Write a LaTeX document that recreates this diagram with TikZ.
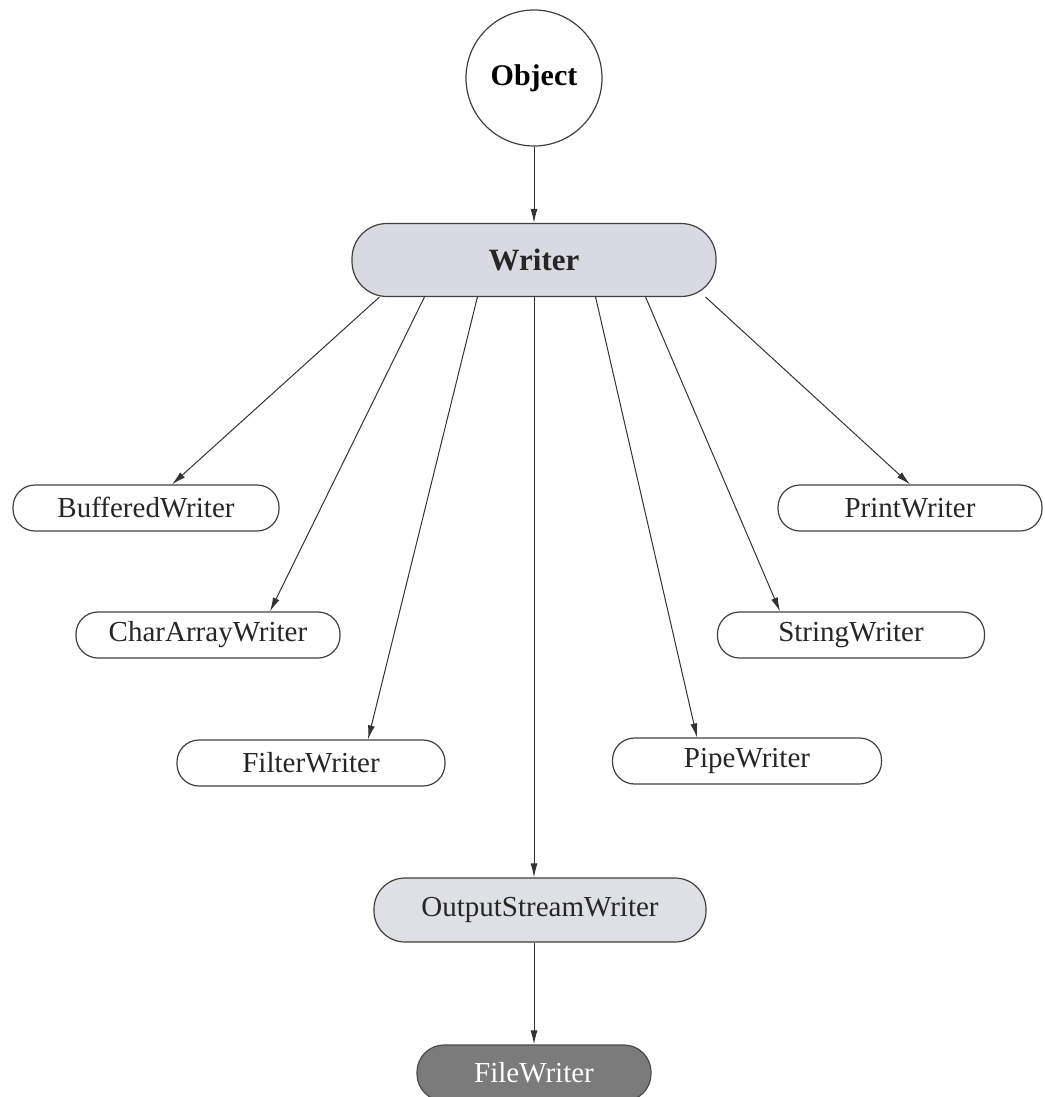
\documentclass[tikz,border=0pt]{standalone}
\usepackage{fontspec}
\setmainfont{Liberation Serif}
\usetikzlibrary{arrows.meta}
\definecolor{wfill}{HTML}{D9D9E1}
\definecolor{ofill}{HTML}{DEE0E6}
\definecolor{ffill}{HTML}{7B7B7B}
\tikzset{
  cls/.style={draw=black!75, line width=1.2pt, rounded corners=22pt, minimum width=266pt, minimum height=46pt, inner sep=0pt, font=\fontsize{29}{31}\selectfont, text=black!85},
  big/.style={cls, rounded corners=35pt, minimum height=73pt},
  arr/.style={draw=black!80, line width=1pt, -{Latex[length=14pt,width=7pt]}}
}
\begin{document}
\begin{tikzpicture}[x=1pt,y=-1pt]
\useasboundingbox (0,0) rectangle (1044,1097);
\node[circle, draw=black!75, line width=1.2pt, minimum size=136pt, inner sep=0pt, font=\fontsize{30}{32}\selectfont\bfseries] (obj) at (534,78) {Object};
\node[big, fill=wfill, minimum width=364pt, font=\fontsize{31}{33}\selectfont\bfseries] (wr) at (534,260) {Writer};
\node[cls] (bw) at (146,508) {BufferedWriter};
\node[cls, minimum width=264pt] (caw) at (208,635) {CharArrayWriter};
\node[cls, minimum width=268pt] (fw) at (311,763) {FilterWriter};
\node[cls, minimum width=264pt] (prw) at (910,508) {PrintWriter};
\node[cls, minimum width=267pt] (sw) at (851,635) {StringWriter};
\node[cls, minimum width=269pt] (pw) at (747,761) {PipeWriter};
\node[cls, fill=ofill, rounded corners=31pt, minimum width=332pt, minimum height=64pt] (osw) at (540,910) {OutputStreamWriter};
\node[cls, fill=ffill, text=white, rounded corners=27pt, minimum width=234pt, minimum height=56pt, draw=black!70] (fiw) at (534,1073) {FileWriter};
\draw[arr] (obj.south) -- (wr.north);
\draw[arr] ([xshift=28pt]wr.south west) -- ([xshift=26pt]bw.north);
\draw[arr] ([xshift=73pt]wr.south west) -- ([xshift=62pt]caw.north);
\draw[arr] ([xshift=126pt]wr.south west) -- ([xshift=57pt]fw.north);
\draw[arr] (wr.south) -- ([xshift=-6pt]osw.north);
\draw[arr] ([xshift=-121pt]wr.south east) -- ([xshift=-50pt]pw.north);
\draw[arr] ([xshift=-71pt]wr.south east) -- ([xshift=-71pt]sw.north);
\draw[arr] ([xshift=-11pt]wr.south east) -- (prw.north);
\draw[arr] ([xshift=-6pt]osw.south) -- (fiw.north);
\end{tikzpicture}
\end{document}
